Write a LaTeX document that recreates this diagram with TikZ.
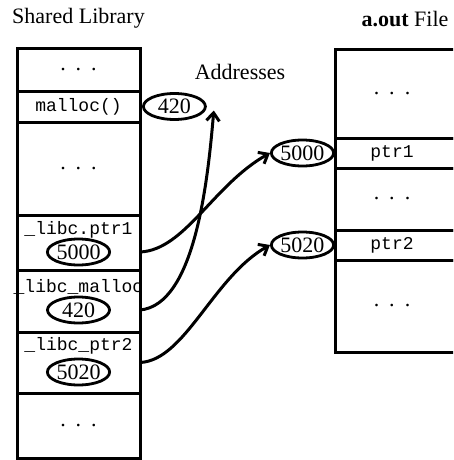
\documentclass[tikz,border=0pt]{standalone}
\usepackage{fontspec}
\setmainfont{Liberation Serif}
\setmonofont{Liberation Mono}
\usetikzlibrary{arrows.meta,shapes.geometric,positioning}
\tikzset{libRow/.style={draw, line width=3pt, minimum width=123pt, minimum height=#1, inner sep=0pt, outer sep=0pt}}
\tikzset{outRow/.style={libRow=#1, minimum width=130pt}}
\tikzset{address/.style={ellipse, draw, line width=2.8pt, minimum width=62pt, minimum height=26pt, inner sep=0pt}}
\tikzset{symbol/.style={font=\ttfamily\fontsize{18}{20}\selectfont}}
\tikzset{pointer/.style={line width=3pt, -{Straight Barb[length=8pt, width=13pt]}}}
\newcommand{\rowdots}{.\hspace{10pt}.\hspace{10pt}.}

\begin{document}
\begin{tikzpicture}[x=1pt, y=-1pt, font=\fontsize{22}{24}\selectfont]
\useasboundingbox (0,0) rectangle (453,460);
\clip (0,0) rectangle (453,460);

% Shared library
\node (lib1) [libRow=42pt, anchor=north west] at (17,49) {\rowdots};
\node (lib2) [libRow=31pt, below=0pt of lib1, symbol] {malloc()};
\node (lib3) [libRow=93pt, below=0pt of lib2] {\rowdots};
\node (lib4) [libRow=55pt, below=0pt of lib3] {};
\node (lib5) [libRow=62pt, below=0pt of lib4] {};
\node (lib6) [libRow=61pt, below=0pt of lib5] {};
\node (lib7) [libRow=65pt, below=0pt of lib6] {\rowdots};

\node (ptrOneName) [symbol, anchor=base] at ([yshift=-19pt]lib4.north) {\_libc.ptr1};
\node (ptrOneAddr) [address] at ([yshift=-37pt]lib4.north) {5000};
\node (mallocName) [symbol, anchor=base] at ([yshift=-22pt]lib5.north) {\_libc\_malloc};
\node (mallocAddr) [address] at ([yshift=-40pt]lib5.north) {420};
\node (ptrTwoName) [symbol, anchor=base] at ([yshift=-18pt]lib6.north) {\_libc\_ptr2};
\node (ptrTwoAddr) [address] at ([yshift=-40pt]lib6.north) {5020};

% a.out file
\node (out1) [outRow=88pt, anchor=north west] at (335,50) {};
\node (out2) [outRow=30pt, below=0pt of out1] {};
\node (out3) [outRow=62pt, below=0pt of out2] {};
\node (out4) [outRow=30pt, below=0pt of out3] {};
\node (out5) [outRow=92pt, below=0pt of out4] {};

\node (outDotsA) at ([xshift=-8pt]out1.center) {\rowdots};
\node (ptrOneSlot) [symbol] at ([xshift=-8pt]out2.center) {ptr1};
\node (outDotsB) at ([xshift=-8pt]out3.center) {\rowdots};
\node (ptrTwoSlot) [symbol] at ([xshift=-8pt]out4.center) {ptr2};
\node (outDotsC) at ([xshift=-8pt]out5.center) {\rowdots};

% Addresses
\node (mallocTarget) [address, right=2pt of lib2] {420};
\node (ptrOneTarget) [address, left=0pt of out2] {5000};
\node (ptrTwoTarget) [address, left=0pt of out4] {5020};
\coordinate (mallocTip) at ([xshift=7pt, yshift=-4pt]mallocTarget.east);

% Titles
\node (libTitle) [anchor=base] at ([yshift=25pt]lib1.north) {Shared Library};
\node (addrTitle) at (240,72) {Addresses};
\node (outTitle) [anchor=base east] at (452,27) {\textbf{a.out} File};

% Connectors
\draw [pointer] (ptrOneAddr -| lib4.east) .. controls +(45,-2) and +(-57,32) .. (ptrOneTarget.west);
\draw [pointer] (mallocAddr -| lib5.east) .. controls +(55,-5) and +(-6,70) .. (mallocTip);
\draw [pointer] (lib6.east) .. controls +(45,-2) and +(-57,32) .. (ptrTwoTarget.west);

\end{tikzpicture}
\end{document}
